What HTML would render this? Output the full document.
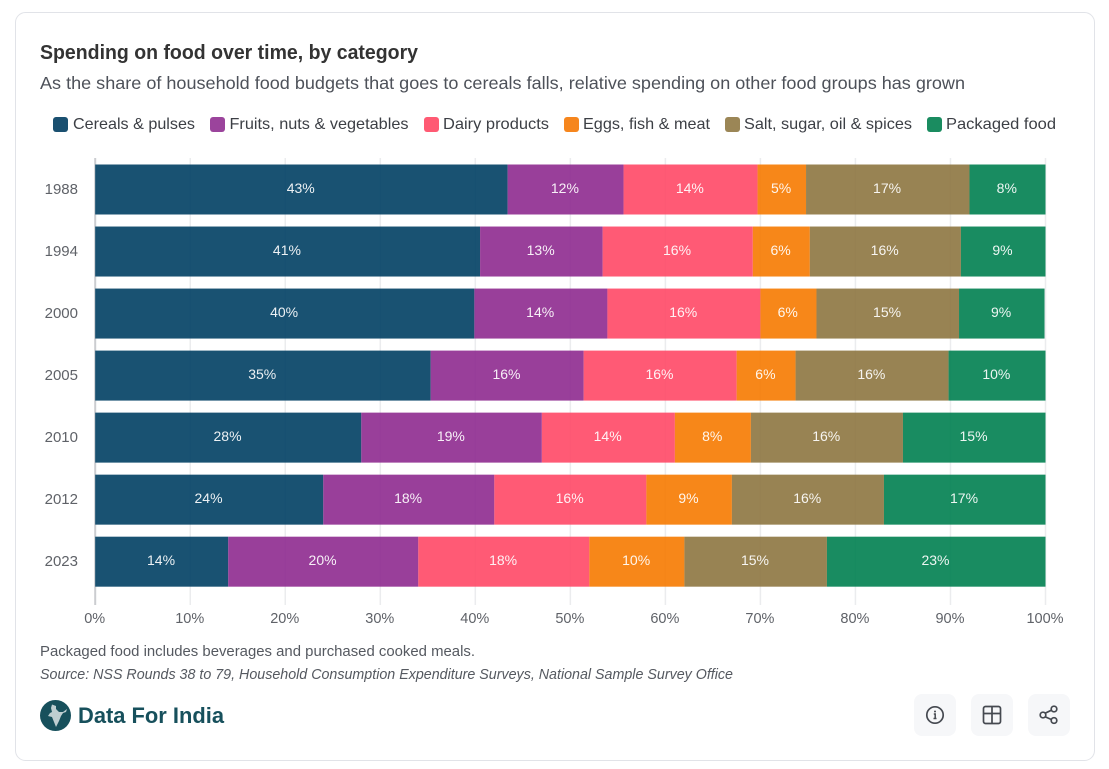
<!DOCTYPE html>
<html lang="en">
<head>
<meta charset="utf-8">
<title>Spending on food over time, by category</title>
<style>
html,body{margin:0;padding:0;background:#fff;width:1109px;height:769px;overflow:hidden}
svg{display:block;font-family:"Liberation Sans",sans-serif}
</style>
</head>
<body>
<svg id="chart" width="1109" height="769" viewBox="0 0 1109 769" xmlns="http://www.w3.org/2000/svg">
  <rect x="15.5" y="12.5" width="1079" height="748" rx="10" fill="#fff" stroke="#e1e3e8" stroke-width="1"/>
  <text x="40" y="59" font-size="20" font-weight="700" fill="#333" textLength="378" lengthAdjust="spacingAndGlyphs">Spending on food over time, by category</text>
  <text x="40" y="89" font-size="17.5" fill="#4d5159" textLength="925" lengthAdjust="spacingAndGlyphs">As the share of household food budgets that goes to cereals falls, relative spending on other food groups has grown</text>

  <g font-size="16" fill="#3c3f45">
    <rect x="53" y="117" width="15" height="15" rx="3" fill="#1a5070"/>
    <text x="73" y="129" textLength="122" lengthAdjust="spacingAndGlyphs">Cereals &amp; pulses</text>
    <rect x="210" y="117" width="15" height="15" rx="3" fill="#9b449c"/>
    <text x="229.500" y="129" textLength="179" lengthAdjust="spacingAndGlyphs">Fruits, nuts &amp; vegetables</text>
    <rect x="424" y="117" width="15" height="15" rx="3" fill="#ff5a73"/>
    <text x="443" y="129" textLength="106" lengthAdjust="spacingAndGlyphs">Dairy products</text>
    <rect x="564" y="117" width="15" height="15" rx="3" fill="#f6861d"/>
    <text x="583" y="129" textLength="127" lengthAdjust="spacingAndGlyphs">Eggs, fish &amp; meat</text>
    <rect x="725" y="117" width="15" height="15" rx="3" fill="#9b8656"/>
    <text x="744" y="129" textLength="168" lengthAdjust="spacingAndGlyphs">Salt, sugar, oil &amp; spices</text>
    <rect x="927" y="117" width="15" height="15" rx="3" fill="#1a8c60"/>
    <text x="946" y="129" textLength="110" lengthAdjust="spacingAndGlyphs">Packaged food</text>
  </g>

  <g id="plot"></g>

  <text x="40" y="656" font-size="15" fill="#555960" textLength="435" lengthAdjust="spacingAndGlyphs">Packaged food includes beverages and purchased cooked meals.</text>
  <text x="40" y="679" font-size="15" font-style="italic" fill="#555960" textLength="693" lengthAdjust="spacingAndGlyphs">Source: NSS Rounds 38 to 79, Household Consumption Expenditure Surveys, National Sample Survey Office</text>

  <g>
    <circle cx="55.500" cy="715.500" r="15.500" fill="#17505c"/>
    <path d="M52 704.500L56 706L56 709L59 712L63 712L67 709L66 712L63 713L61 716L59 721L56 727L54 722L52 717L48 716L50 713L52 712L51 708z" fill="#fff" fill-opacity="0.72"/>
    <text x="78" y="723" font-size="22" font-weight="700" fill="#17505c" textLength="146" lengthAdjust="spacingAndGlyphs">Data For India</text>
  </g>

  <g>
    <rect x="914" y="694" width="42" height="42" rx="8" fill="#f6f7f9"/>
    <circle cx="935" cy="715" r="8.200" fill="none" stroke="#454950" stroke-width="1.700"/>
    <path d="M933.800 714h1.400v4.500M933.500 718.500h3" fill="none" stroke="#454950" stroke-width="1.500"/>
    <circle cx="935" cy="711.500" r="1" fill="#454950"/>
  </g>
  <g>
    <rect x="971" y="694" width="42" height="42" rx="8" fill="#f6f7f9"/>
    <rect x="983.500" y="706.500" width="17" height="17" rx="2" fill="none" stroke="#454950" stroke-width="1.700"/>
    <path d="M983.500 713.500h17M992 706.500v17" fill="none" stroke="#454950" stroke-width="1.700"/>
  </g>
  <g>
    <rect x="1028" y="694" width="42" height="42" rx="8" fill="#f6f7f9"/>
    <path d="M1044.500 713.500l8-3.800M1044.500 716.500l8 3.500" fill="none" stroke="#454950" stroke-width="1.700"/>
    <circle cx="1043" cy="715" r="2.800" fill="#f6f7f9" stroke="#454950" stroke-width="1.700"/>
    <circle cx="1054" cy="709" r="2.800" fill="#f6f7f9" stroke="#454950" stroke-width="1.700"/>
    <circle cx="1054" cy="720.500" r="2.800" fill="#f6f7f9" stroke="#454950" stroke-width="1.700"/>
  </g>
</svg>
<script>
const years = ["1988","1994","2000","2005","2010","2012","2023"];
const seriesNames = ["cereals","fruits","dairy","eggs","salt","packaged"];
const seriesColors = ["#003f63","#8e2a8f","#ff4866","#f67a00","#8d7640","#007f50"];
const cereals = [43.4,40.5,39.9,35.3,28,24,14];
const fruits = [12.2,12.9,14,16.1,19,18,20];
const dairy = [14.1,15.8,16.1,16.1,14,16,18];
const eggs = [5.1,6,5.9,6.2,8,9,10];
const salt = [17.2,15.9,15,16.1,16,16,15];
const packaged = [8,8.9,9,10.2,15,17,23];
const xTicks = [0,10,20,30,40,50,60,70,80,90,100];

const seriesValues = [cereals,fruits,dairy,eggs,salt,packaged];
const NS = "http://www.w3.org/2000/svg";
const plot = document.getElementById("plot");
const xScale = v => 95.2 + v * 9.503;
const yScale = i => 164.5 + i * 62.03;
const barH = 50;

function mk(tag, attrs, parent){
  const el = document.createElementNS(NS, tag);
  for (const k in attrs) el.setAttribute(k, attrs[k]);
  parent.appendChild(el);
  return el;
}

xTicks.forEach(t => {
  const line = mk("line", {x1:xScale(t), x2:xScale(t), y1:158, y2:605, stroke:t === 0 ? "#cbcdd0" : "#ebecee", "stroke-width":t === 0 ? 2 : 1.5}, plot);
  
  
  const label = mk("text", {x:xScale(t) - 0.5, y:623, "text-anchor":"middle", "font-size":14.500, fill:"#5f6268"}, plot);
  
  
  label.textContent = t + "%";
});

years.forEach((yr, i) => {
  const label = mk("text", {x:78, y:yScale(i) + barH / 2 + 4.5, "text-anchor":"end", "font-size":15, fill:"#5f6268"}, plot);
  
  
  label.textContent = yr;
  let cum = 0;
  seriesValues.forEach((vals, s) => {
    const v = vals[i];
    const x0 = xScale(cum), x1 = xScale(cum + v);
    const bar = mk("rect", {x:x0, y:yScale(i), width:x1 - x0, height:barH, fill:seriesColors[s], "fill-opacity":0.9}, plot);
    
    
    const txt = mk("text", {x:(x0 + x1) / 2 - 0.7, y:yScale(i) + barH / 2 + 3.5, "text-anchor":"middle", "font-size":14, fill:"#fff", "fill-opacity":0.92}, plot);
    
    
    txt.textContent = Math.round(v) + "%";
    cum += v;
  });
});
</script>
</body>
</html>
